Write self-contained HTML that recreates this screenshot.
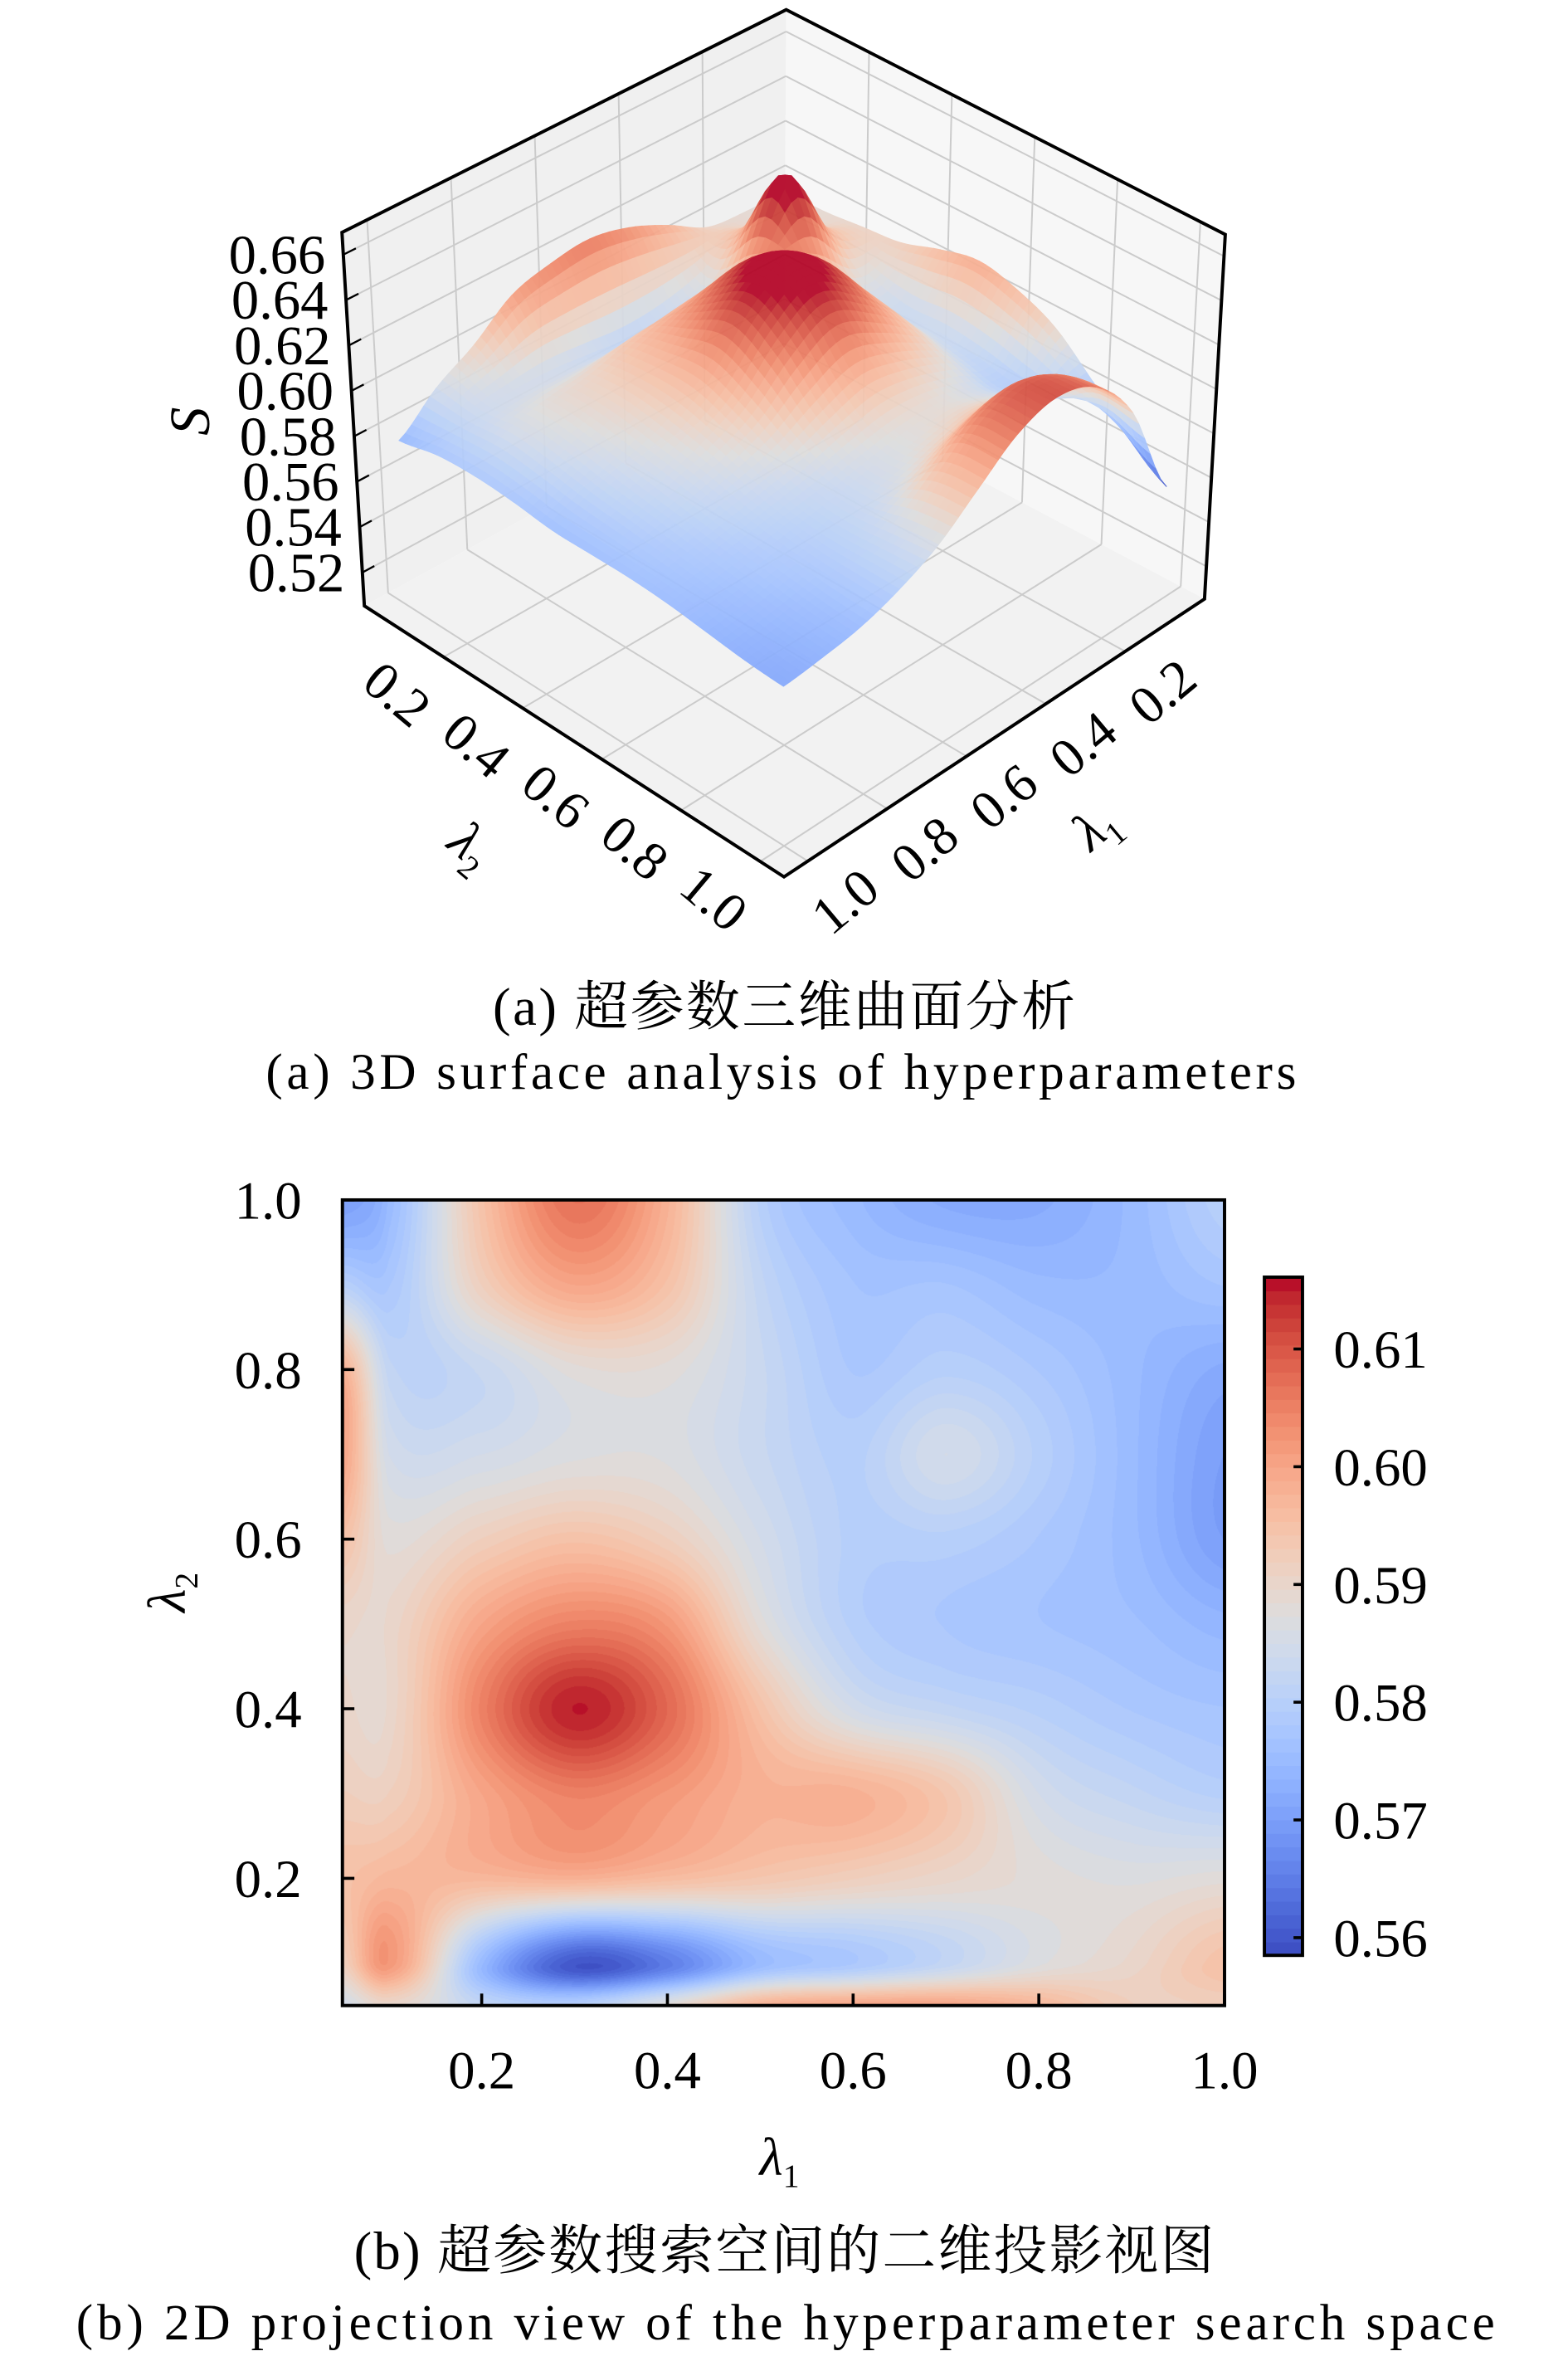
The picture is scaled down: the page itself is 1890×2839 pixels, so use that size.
<!DOCTYPE html>
<html>
<head>
<meta charset="utf-8">
<style>
html,body{margin:0;padding:0;background:#fff;}
#wrap{position:relative;width:1890px;height:2839px;overflow:hidden;background:#fff;}
#heat{position:absolute;left:412.74px;top:1445.94px;width:1063.26px;height:970.74px;}
#fig{position:absolute;left:0;top:0;}
text{font-family:"Liberation Serif","Noto Serif CJK SC",serif;fill:#000;}
</style>
</head>
<body>
<div id="wrap">
<canvas id="heat" width="1063" height="971"></canvas>
<svg id="fig" width="1890" height="2839" viewBox="0 0 1050 1577.22" preserveAspectRatio="none" xmlns="http://www.w3.org/2000/svg">
  <g id="g3d"></g>
  <g id="g2d"></g>
  <text x="525" y="686" font-size="36" text-anchor="middle" textLength="390">(a) 超参数三维曲面分析</text>
  <text x="523" y="729" font-size="34" text-anchor="middle" textLength="690">(a) 3D surface analysis of hyperparameters</text>
  <text x="525" y="1519" font-size="36" text-anchor="middle" textLength="576">(b) 超参数搜索空间的二维投影视图</text>
  <text x="526" y="1566" font-size="34" text-anchor="middle" textLength="950">(b) 2D projection view of the hyperparameter search space</text>
</svg>
</div>
<script>
// ---------- data: 3D surface ----------
const surfLam = [0.05,0.145,0.24,0.335,0.43,0.525,0.62,0.715,0.81,0.905,1.0];
// rows: lambda2 ascending, columns: lambda1 ascending
const surfZ = [
 [0.598,0.598,0.600,0.610,0.618,0.622,0.620,0.615,0.602,0.592,0.578],
 [0.598,0.598,0.610,0.596,0.590,0.588,0.590,0.592,0.592,0.590,0.582],
 [0.600,0.610,0.642,0.610,0.610,0.608,0.605,0.600,0.597,0.592,0.583],
 [0.602,0.596,0.610,0.625,0.632,0.622,0.610,0.602,0.596,0.590,0.582],
 [0.608,0.590,0.610,0.632,0.642,0.632,0.612,0.600,0.593,0.587,0.580],
 [0.612,0.590,0.606,0.622,0.632,0.622,0.605,0.596,0.590,0.585,0.580],
 [0.608,0.588,0.598,0.606,0.610,0.604,0.596,0.591,0.587,0.583,0.580],
 [0.600,0.585,0.592,0.597,0.597,0.594,0.590,0.587,0.584,0.581,0.579],
 [0.585,0.588,0.600,0.604,0.600,0.594,0.589,0.585,0.582,0.579,0.577],
 [0.570,0.600,0.618,0.625,0.620,0.606,0.592,0.585,0.580,0.577,0.575],
 [0.556,0.600,0.622,0.628,0.622,0.608,0.594,0.585,0.579,0.576,0.574]
];
const lamTicks3d = [0.2,0.4,0.6,0.8,1.0];
const lamTickLabels3d = ["0.2","0.4","0.6","0.8","1.0"];
const zTicks = [0.52,0.54,0.56,0.58,0.60,0.62,0.64,0.66];
const zTickLabels = ["0.52","0.54","0.56","0.58","0.60","0.62","0.64","0.66"];
// ---------- data: 2D projection ----------
const heatLam1 = [0.05,0.1,0.2,0.3,0.4,0.5,0.6,0.7,0.8,0.9,1.0];
const heatLam2 = [0.05,0.1,0.2,0.3,0.4,0.5,0.6,0.7,0.8,0.9,1.0];
const heatVals = [
 [0.585,0.590,0.582,0.580,0.588,0.598,0.600,0.600,0.597,0.592,0.592],
 [0.592,0.602,0.575,0.560,0.565,0.575,0.578,0.582,0.587,0.590,0.595],
 [0.595,0.597,0.597,0.598,0.596,0.594,0.592,0.590,0.588,0.587,0.588],
 [0.592,0.592,0.600,0.605,0.602,0.598,0.598,0.594,0.585,0.582,0.580],
 [0.590,0.590,0.605,0.615,0.608,0.595,0.585,0.582,0.580,0.578,0.577],
 [0.590,0.590,0.600,0.605,0.602,0.588,0.580,0.578,0.577,0.576,0.574],
 [0.595,0.588,0.592,0.595,0.592,0.585,0.580,0.580,0.578,0.575,0.570],
 [0.600,0.585,0.585,0.587,0.587,0.583,0.580,0.585,0.580,0.575,0.570],
 [0.598,0.582,0.583,0.588,0.588,0.583,0.578,0.580,0.578,0.575,0.572],
 [0.580,0.578,0.592,0.600,0.595,0.582,0.577,0.577,0.575,0.575,0.577],
 [0.570,0.575,0.595,0.607,0.598,0.580,0.575,0.572,0.572,0.575,0.580]
];
const axTicks2d = [0.2,0.4,0.6,0.8,1.0];
const axTickLabels2d = ["0.2","0.4","0.6","0.8","1.0"];
const cbTicks = [0.56,0.57,0.58,0.59,0.60,0.61];
const cbTickLabels = ["0.56","0.57","0.58","0.59","0.60","0.61"];

// ---------- helpers ----------
const NS = 'http://www.w3.org/2000/svg';
function mk(tag, parent){ const e = document.createElementNS(NS, tag); parent.appendChild(e); return e; }
const CM = [[59,76,192],[68,90,204],[77,104,215],[87,117,225],[98,130,234],[108,142,241],[119,154,247],[130,165,251],[141,176,254],[152,185,255],[163,194,255],[174,201,253],[184,208,249],[194,213,244],[204,217,238],[213,219,230],[221,221,221],[229,216,209],[236,211,197],[241,204,184],[245,196,172],[247,187,160],[247,177,148],[247,166,137],[244,154,123],[241,141,111],[236,127,99],[229,112,88],[222,96,77],[213,80,66],[203,62,56],[192,40,47],[180,4,38]];
function cmapArr(t){ t = Math.max(0, Math.min(1, t)); const x = t*32; const i = Math.min(31, Math.floor(x)); const f = x - i; const a = CM[i], b = CM[i+1]; return [a[0]+(b[0]-a[0])*f, a[1]+(b[1]-a[1])*f, a[2]+(b[2]-a[2])*f]; }
function cmap(t){ const c = cmapArr(t); return 'rgb(' + Math.round(c[0]) + ',' + Math.round(c[1]) + ',' + Math.round(c[2]) + ')'; }
function seg(arr, x){ let i = 0; while (i < arr.length-2 && x > arr[i+1]) i++; return [i, (x-arr[i])/(arr[i+1]-arr[i])]; }
function cr(p0,p1,p2,p3,t){ return 0.5*(2*p1+(-p0+p2)*t+(2*p0-5*p1+4*p2-p3)*t*t+(-p0+3*p1-3*p2+p3)*t*t*t); }
function sampleGrid(G, xs, ys, x, y){
  const s1 = seg(xs, x), s2 = seg(ys, y); const i = s1[0], tx = s1[1], j = s2[0], ty = s2[1];
  const n = xs.length, m = ys.length;
  const c = k => Math.max(0, Math.min(n-1, k)); const r = k => Math.max(0, Math.min(m-1, k));
  const rowv = jj => cr(G[jj][c(i-1)], G[jj][c(i)], G[jj][c(i+1)], G[jj][c(i+2)], tx);
  return cr(rowv(r(j-1)), rowv(r(j)), rowv(r(j+1)), rowv(r(j+2)), ty);
}

// ---------- 3D panel ----------
const g3 = document.getElementById('g3d');
const lamMin = 0.0, lamMax = 1.06, zMin = 0.5053, zMax = 0.6698;
const zVmin = 0.556, zVmax = 0.635;
const FL = {B:[525,252], L:[244,405.6], R:[806.6,401], F:[525,587]};
const TP = {B:[526.5,6.5], L:[229,155.6], R:[820.5,157], F:[524,330]};
function bil(c, u, v, k){ return c.B[k]*(1-u)*(1-v) + c.L[k]*u*(1-v) + c.R[k]*(1-u)*v + c.F[k]*u*v; }
function proj(l1, l2, z){
  const u = (l1-lamMin)/(lamMax-lamMin), v = (l2-lamMin)/(lamMax-lamMin), zf = (z-zMin)/(zMax-zMin);
  const fx = bil(FL,u,v,0), fy = bil(FL,u,v,1), tx = bil(TP,u,v,0), ty = bil(TP,u,v,1);
  return [fx+(tx-fx)*zf, fy+(ty-fy)*zf];
}
function pts(a){ return a.map(p => p[0].toFixed(2)+','+p[1].toFixed(2)).join(' '); }

const paneL = mk('polygon', g3);


paneL.setAttribute('points', pts([TP.B, TP.L, FL.L, FL.B]));
paneL.setAttribute('fill', '#f0f0f0');
const paneR = mk('polygon', g3);


paneR.setAttribute('points', pts([TP.B, TP.R, FL.R, FL.B]));
paneR.setAttribute('fill', '#f7f7f7');
const paneF = mk('polygon', g3);


paneF.setAttribute('points', pts([FL.B, FL.L, FL.F, FL.R]));
paneF.setAttribute('fill', '#f2f2f2');

const gGrid = mk('g', g3);


gGrid.setAttribute('stroke', '#cbcbcb');
gGrid.setAttribute('stroke-width', '1.1');
function gline(a, b, name){
  const l = mk('line', gGrid);
  
  
  l.setAttribute('x1', a[0]); l.setAttribute('y1', a[1]); l.setAttribute('x2', b[0]); l.setAttribute('y2', b[1]);
}
lamTicks3d.forEach(t => {
  gline(proj(t, lamMin, zMin), proj(t, lamMax, zMin), 'floor-grid-lambda1');
  gline(proj(t, lamMin, zMin), proj(t, lamMin, zMax), 'wall-grid-lambda1');
  gline(proj(lamMin, t, zMin), proj(lamMax, t, zMin), 'floor-grid-lambda2');
  gline(proj(lamMin, t, zMin), proj(lamMin, t, zMax), 'wall-grid-lambda2');
});
zTicks.forEach(z => {
  gline(proj(lamMin, lamMin, z), proj(lamMax, lamMin, z), 'wall-grid-z-left');
  gline(proj(lamMin, lamMin, z), proj(lamMin, lamMax, z), 'wall-grid-z-right');
});

const gSurf = mk('g', g3);


gSurf.setAttribute('opacity', '0.93');
const N = 60;
const Zs = [];
for (let b = 0; b <= N; b++){ const row = []; for (let a = 0; a <= N; a++){ const l1 = 0.05+0.95*a/N, l2 = 0.05+0.95*b/N; row.push(sampleGrid(surfZ, surfLam, surfLam, l1, l2)); } Zs.push(row); }
const quads = [];
for (let b = 0; b < N; b++) for (let a = 0; a < N; a++){
  const l1a = 0.05+0.95*a/N, l1b = 0.05+0.95*(a+1)/N, l2a = 0.05+0.95*b/N, l2b = 0.05+0.95*(b+1)/N;
  const p = [proj(l1a,l2a,Zs[b][a]), proj(l1b,l2a,Zs[b][a+1]), proj(l1b,l2b,Zs[b+1][a+1]), proj(l1a,l2b,Zs[b+1][a])];
  const zc = (Zs[b][a]+Zs[b][a+1]+Zs[b+1][a+1]+Zs[b+1][a])/4;
  quads.push({p:p, z:zc, d:a+b});
}
quads.sort((q1,q2) => q1.d - q2.d);
quads.forEach(q => {
  const poly = mk('polygon', gSurf);
  
  
  const col = cmap((q.z - zVmin)/(zVmax - zVmin));
  poly.setAttribute('points', pts(q.p));
  poly.setAttribute('fill', col);
  poly.setAttribute('stroke', col);
  poly.setAttribute('stroke-width', '0.6');
});

const outline = mk('polygon', g3);


outline.setAttribute('points', pts([TP.B, TP.L, FL.L, FL.F, FL.R, TP.R]));
outline.setAttribute('fill', 'none');
outline.setAttribute('stroke', '#000');
outline.setAttribute('stroke-width', '2.2');
outline.setAttribute('stroke-linejoin', 'miter');

zTicks.forEach((z, k) => {
  const p = proj(lamMax, lamMin, z), q = proj(lamMax-0.03, lamMin, z);
  const tk = mk('line', g3);
  
  
  tk.setAttribute('x1', p[0]); tk.setAttribute('y1', p[1]); tk.setAttribute('x2', q[0]); tk.setAttribute('y2', q[1]);
  tk.setAttribute('stroke', '#000'); tk.setAttribute('stroke-width', '1.3');
  const tx = mk('text', g3);
  
  
  tx.setAttribute('x', (p[0]-12).toFixed(1)); tx.setAttribute('y', (p[1]+12.5).toFixed(1));
  tx.setAttribute('font-size', '37'); tx.setAttribute('text-anchor', 'end');
  tx.textContent = zTickLabels[k];
});
lamTicks3d.forEach((t, k) => {
  const p = proj(lamMax, t, zMin);
  const tx = mk('text', g3);
  
  
  const x = p[0]-31, y = p[1]+25;
  tx.setAttribute('x', x.toFixed(1)); tx.setAttribute('y', (y+12).toFixed(1));
  tx.setAttribute('font-size', '36'); tx.setAttribute('text-anchor', 'middle');
  tx.setAttribute('transform', 'rotate(40 ' + x.toFixed(1) + ' ' + y.toFixed(1) + ')');
  tx.textContent = lamTickLabels3d[k];
  const p2 = proj(t, lamMax, zMin);
  const tx2 = mk('text', g3);
  
  
  const x2 = p2[0]+25, y2 = p2[1]+27;
  tx2.setAttribute('x', x2.toFixed(1)); tx2.setAttribute('y', (y2+12).toFixed(1));
  tx2.setAttribute('font-size', '36'); tx2.setAttribute('text-anchor', 'middle');
  tx2.setAttribute('transform', 'rotate(-40 ' + x2.toFixed(1) + ' ' + y2.toFixed(1) + ')');
  tx2.textContent = lamTickLabels3d[k];
});
</script>
<script>
(function(){
  const g3 = document.getElementById('g3d');
  const NS = 'http://www.w3.org/2000/svg';
  const s = document.createElementNS(NS, 'text'); g3.appendChild(s);
  
  
  s.setAttribute('x', '128'); s.setAttribute('y', '294'); s.setAttribute('font-size', '38');
  s.setAttribute('font-style', 'italic'); s.setAttribute('text-anchor', 'middle');
  s.setAttribute('transform', 'rotate(-90 128 282)');
  s.textContent = 'S';
  const a2 = document.createElementNS(NS, 'text'); g3.appendChild(a2);
  
  
  a2.setAttribute('x', '316'); a2.setAttribute('y', '578'); a2.setAttribute('font-size', '36');
  a2.setAttribute('font-style', 'italic'); a2.setAttribute('text-anchor', 'middle');
  a2.setAttribute('transform', 'rotate(40 316 566)');
  a2.innerHTML = 'λ<tspan font-size="22" dy="8" font-style="normal">2</tspan>';
  const a1 = document.createElementNS(NS, 'text'); g3.appendChild(a1);
  
  
  a1.setAttribute('x', '733'); a1.setAttribute('y', '565'); a1.setAttribute('font-size', '36');
  a1.setAttribute('font-style', 'italic'); a1.setAttribute('text-anchor', 'middle');
  a1.setAttribute('transform', 'rotate(-40 733 553)');
  a1.innerHTML = 'λ<tspan font-size="22" dy="8" font-style="normal">1</tspan>';
})();

(function(){
  const NS = 'http://www.w3.org/2000/svg';
  function mk(tag, parent){ const e = document.createElementNS(NS, tag); parent.appendChild(e); return e; }
  const g2 = document.getElementById('g2d');
  const bx0 = 229.3, bx1 = 820, by0 = 803.3, by1 = 1342.6;
  const lo = 0.05, hi = 1.0;
  const xS = l => bx0 + (l-lo)/(hi-lo)*(bx1-bx0);
  const yS = l => by1 - (l-lo)/(hi-lo)*(by1-by0);
  const vmin = 0.5585, vmax = 0.6161, nLev = 50, step = (vmax-vmin)/nLev;
  const cv = document.getElementById('heat');
  const ctx = cv.getContext('2d');
  const W = cv.width, H = cv.height;
  const img = ctx.createImageData(W, H);
  for (let py = 0; py < H; py++){
    const l2 = hi - (py+0.5)/H*(hi-lo);
    for (let px = 0; px < W; px++){
      const l1 = lo + (px+0.5)/W*(hi-lo);
      const v = sampleGrid(heatVals, heatLam1, heatLam2, l1, l2);
      let k = Math.floor((v - vmin)/step); k = Math.max(0, Math.min(nLev-1, k));
      const c = cmapArr((k+0.5)/nLev);
      const o = (py*W+px)*4;
      img.data[o] = c[0]; img.data[o+1] = c[1]; img.data[o+2] = c[2]; img.data[o+3] = 255;
    }
  }
  ctx.putImageData(img, 0, 0);
  const fr = mk('rect', g2);
  
  
  fr.setAttribute('x', bx0); fr.setAttribute('y', by0); fr.setAttribute('width', bx1-bx0); fr.setAttribute('height', by1-by0);
  fr.setAttribute('fill', 'none'); fr.setAttribute('stroke', '#000'); fr.setAttribute('stroke-width', '2.2');
  axTicks2d.forEach((t, k) => {
    const x = xS(t);
    const tk = mk('line', g2);
    
    
    tk.setAttribute('x1', x); tk.setAttribute('x2', x); tk.setAttribute('y1', by1); tk.setAttribute('y2', by1-8);
    tk.setAttribute('stroke', '#000'); tk.setAttribute('stroke-width', '2');
    const lb = mk('text', g2);
    
    
    lb.setAttribute('x', x); lb.setAttribute('y', 1398); lb.setAttribute('font-size', '36'); lb.setAttribute('text-anchor', 'middle');
    lb.textContent = axTickLabels2d[k];
    const y = yS(t);
    const tk2 = mk('line', g2);
    
    
    tk2.setAttribute('x1', bx0); tk2.setAttribute('x2', bx0+8); tk2.setAttribute('y1', y); tk2.setAttribute('y2', y);
    tk2.setAttribute('stroke', '#000'); tk2.setAttribute('stroke-width', '2');
    const lb2 = mk('text', g2);
    
    
    lb2.setAttribute('x', 202); lb2.setAttribute('y', y+12.5); lb2.setAttribute('font-size', '36'); lb2.setAttribute('text-anchor', 'end');
    lb2.textContent = axTickLabels2d[k];
  });
  const xt = mk('text', g2);
  
  
  xt.setAttribute('x', 522); xt.setAttribute('y', 1456); xt.setAttribute('font-size', '36'); xt.setAttribute('font-style', 'italic'); xt.setAttribute('text-anchor', 'middle');
  xt.innerHTML = 'λ<tspan font-size="22" dy="8" font-style="normal">1</tspan>';
  const yt = mk('text', g2);
  
  
  yt.setAttribute('x', 112); yt.setAttribute('y', 1078); yt.setAttribute('font-size', '36'); yt.setAttribute('font-style', 'italic'); yt.setAttribute('text-anchor', 'middle');
  yt.setAttribute('transform', 'rotate(-90 112 1066)');
  yt.innerHTML = 'λ<tspan font-size="22" dy="8" font-style="normal">2</tspan>';
  const cx0 = 846.7, cx1 = 872.2, cy0 = 855, cy1 = 1309;
  const cbY = v => cy1 - (v - vmin)/(vmax - vmin)*(cy1 - cy0);
  const gcb = mk('g', g2);
  
  
  for (let k = 0; k < nLev; k++){
    const r = mk('rect', gcb);
    
    
    const ya = cbY(vmin + (k+1)*step), yb = cbY(vmin + k*step);
    r.setAttribute('x', cx0); r.setAttribute('y', ya); r.setAttribute('width', cx1-cx0); r.setAttribute('height', yb-ya+0.4);
    r.setAttribute('fill', cmap((k+0.5)/nLev));
  }
  const cbf = mk('rect', gcb);
  
  
  cbf.setAttribute('x', cx0); cbf.setAttribute('y', cy0); cbf.setAttribute('width', cx1-cx0); cbf.setAttribute('height', cy1-cy0);
  cbf.setAttribute('fill', 'none'); cbf.setAttribute('stroke', '#000'); cbf.setAttribute('stroke-width', '2.2');
  cbTicks.forEach((v, k) => {
    const y = cbY(v);
    const tk = mk('line', gcb);
    
    
    tk.setAttribute('x1', cx1); tk.setAttribute('x2', cx1-6); tk.setAttribute('y1', y); tk.setAttribute('y2', y);
    tk.setAttribute('stroke', '#000'); tk.setAttribute('stroke-width', '2');
    const lb = mk('text', gcb);
    
    
    lb.setAttribute('x', 893); lb.setAttribute('y', y+12.5); lb.setAttribute('font-size', '36');
    lb.textContent = cbTickLabels[k];
  });
})();
</script>
</body>
</html>
